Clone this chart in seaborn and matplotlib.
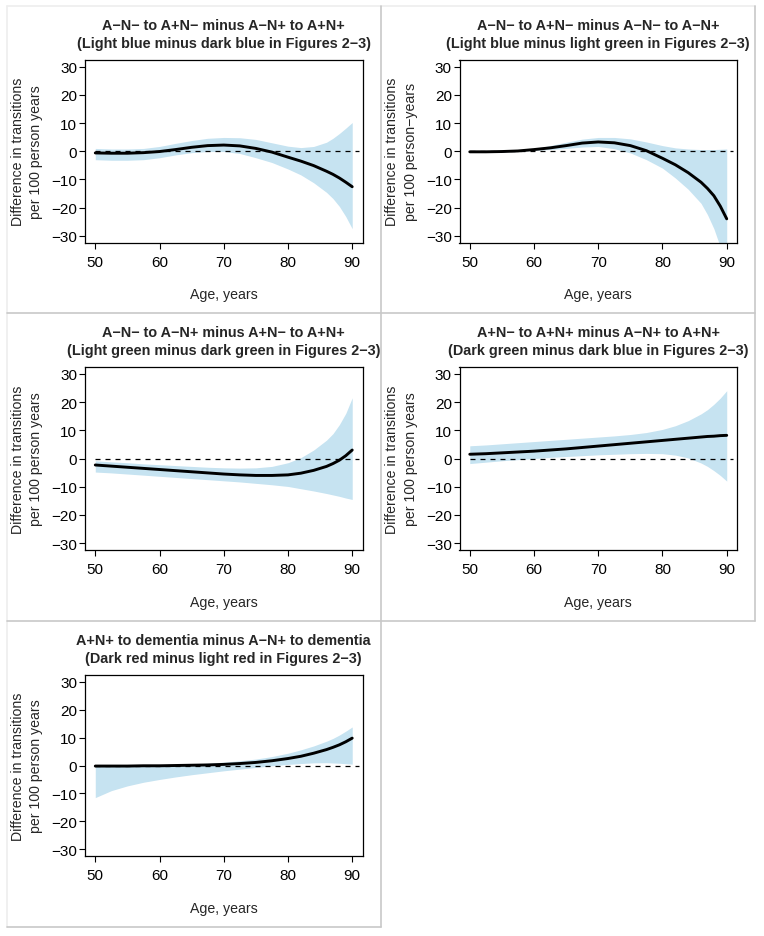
import numpy as np
import matplotlib
matplotlib.use('Agg')
import matplotlib.pyplot as plt
import seaborn as sns
from matplotlib.lines import Line2D

W, H = 764, 937
BAND = '#c6e3f1'

ages = [50, 52.5, 55, 57.5, 60, 62.5, 65, 67.5, 70, 72.5, 75, 77.5,
        80, 82, 84, 86, 87, 88, 89, 90]

# panel 1: light blue minus dark blue
p1_est = [-0.6, -0.7, -0.7, -0.5, -0.1, 0.6, 1.4, 2.0, 2.2, 1.9, 1.0, -0.3,
          -2.1, -3.5, -5.1, -7.1, -8.2, -9.5, -11.0, -12.6]
p1_hi  = [1.0, 0.8, 0.8, 1.0, 1.7, 2.8, 3.8, 4.6, 4.9, 4.8, 4.2, 3.0,
          1.8, 1.3, 1.7, 3.2, 4.6, 6.3, 8.2, 10.2]
p1_lo  = [-3.0, -3.2, -3.2, -3.0, -2.3, -1.3, -0.5, -0.1, -0.1, -0.8, -2.3, -4.0,
          -6.3, -8.4, -11.2, -14.6, -16.8, -19.6, -23.2, -27.5]

# panel 2: light blue minus light green
p2_est = [-0.2, -0.2, -0.1, 0.1, 0.6, 1.2, 2.0, 2.9, 3.3, 3.0, 2.0, 0.2,
          -2.5, -4.8, -7.6, -11.0, -13.2, -15.8, -19.5, -24.0]
p2_hi  = [-0.1, 0.0, 0.1, 0.4, 1.0, 2.0, 3.2, 4.3, 4.9, 4.9, 4.4, 3.3,
          2.0, 1.2, 0.8, 0.6, 0.6, 0.6, 0.7, 0.8]
p2_lo  = [-0.3, -0.3, -0.2, 0.0, 0.3, 0.6, 1.0, 1.5, 1.7, 0.9, -0.6, -3.0,
          -6.0, -9.5, -13.5, -18.5, -22.5, -27.5, -34.0, -42.0]

# panel 3: light green minus dark green
p3_est = [-2.3, -2.7, -3.1, -3.5, -3.9, -4.3, -4.7, -5.1, -5.5, -5.8, -6.0, -6.0,
          -5.8, -5.2, -4.2, -2.8, -1.8, -0.6, 1.0, 3.0]
p3_hi  = [-0.8, -1.2, -1.5, -1.9, -2.2, -2.5, -2.8, -3.1, -3.3, -3.4, -3.3, -2.8,
          -1.5, 0.3, 3.0, 6.5, 8.8, 12.0, 16.0, 21.5]
p3_lo  = [-4.8, -5.1, -5.5, -5.9, -6.3, -6.7, -7.1, -7.5, -7.9, -8.3, -8.8, -9.3,
          -9.9, -10.7, -11.5, -12.4, -12.9, -13.4, -14.0, -14.5]

# panel 4: dark green minus dark blue
p4_est = [1.5, 1.7, 2.0, 2.3, 2.6, 3.0, 3.4, 3.9, 4.4, 4.9, 5.4, 5.9,
          6.4, 6.8, 7.2, 7.6, 7.8, 7.9, 8.1, 8.2]
p4_hi  = [4.5, 4.8, 5.2, 5.6, 6.0, 6.4, 6.8, 7.2, 7.6, 8.0, 8.5, 9.2,
          10.3, 11.6, 13.4, 15.8, 17.3, 19.2, 21.4, 24.0]
p4_lo  = [-1.8, -1.3, -0.8, -0.4, 0.0, 0.4, 0.7, 1.0, 1.3, 1.5, 1.7, 1.8,
          1.7, 1.2, 0.2, -1.6, -2.8, -4.3, -6.0, -8.0]

# panel 5: dark red minus light red
p5_est = [-0.2, -0.2, -0.2, -0.1, -0.1, 0.0, 0.1, 0.2, 0.4, 0.7, 1.1, 1.7,
          2.5, 3.3, 4.4, 5.7, 6.5, 7.4, 8.5, 9.8]
p5_hi  = [-0.1, 0.0, 0.0, 0.1, 0.2, 0.3, 0.5, 0.8, 1.2, 1.7, 2.3, 3.2,
          4.4, 5.6, 7.0, 8.7, 9.7, 10.9, 12.3, 13.8]
p5_lo  = [-11.5, -9.0, -7.3, -6.0, -5.0, -4.1, -3.3, -2.6, -1.9, -1.3, -0.7, -0.1,
          0.4, 0.7, 0.95, 1.0, 0.9, 0.8, 0.65, 0.5]

titles = [
    ('A\u2212N\u2212 to A+N\u2212 minus A\u2212N+ to A+N+', '(Light blue minus dark blue in Figures 2\u22123)'),
    ('A\u2212N\u2212 to A+N\u2212 minus A\u2212N\u2212 to A\u2212N+', '(Light blue minus light green in Figures 2\u22123)'),
    ('A\u2212N\u2212 to A\u2212N+ minus A+N\u2212 to A+N+', '(Light green minus dark green in Figures 2\u22123)'),
    ('A+N\u2212 to A+N+ minus A\u2212N+ to A+N+', '(Dark green minus dark blue in Figures 2\u22123)'),
    ('A+N+ to dementia minus A\u2212N+ to dementia', '(Dark red minus light red in Figures 2\u22123)'),
]
ylabels = [
    'per 100 person years', 'per 100 person\u2212years', 'per 100 person years',
    'per 100 person years', 'per 100 person years',
]
series = [(p1_est, p1_lo, p1_hi), (p2_est, p2_lo, p2_hi), (p3_est, p3_lo, p3_hi),
          (p4_est, p4_lo, p4_hi), (p5_est, p5_lo, p5_hi)]

# axes boxes in pixels: left, top, right, bottom
boxes = [(85, 61, 362.5, 243.5), (459.5, 61, 737, 243.5),
         (85, 368, 362.5, 551), (459.5, 368, 737, 551),
         (85, 676, 362.5, 857)]

sns.set_style('ticks')
plt.rcParams['font.family'] = ['Liberation Sans', 'DejaVu Sans']

fig = plt.figure(figsize=(W / 100, H / 100), dpi=100)


def fx(x):
    return x / W


def fy(y):
    return 1 - y / H


for i, (l, t, r, b) in enumerate(boxes):
    ax = fig.add_axes([fx(l), fy(b), fx(r) - fx(l), fy(t) - fy(b)])
    est, lo, hi = series[i]
    ax.fill_between(ages, lo, hi, color=BAND, lw=0, zorder=1)
    ax.hlines(0, 50, 91, colors='black', linestyles=(0, (4, 4)), lw=0.9, zorder=2)
    sns.lineplot(x=ages, y=est, ax=ax, color='black', lw=2.1, zorder=3)
    ax.set_xlim(48.4, 91.6)
    ax.set_ylim(-32.4, 32.4)
    ax.set_xticks([50, 60, 70, 80, 90])
    ax.set_yticks([-30, -20, -10, 0, 10, 20, 30])
    ax.tick_params(direction='out', length=4, width=0.8, colors='black',
                   labelsize=11)
    ax.tick_params(axis='x', pad=5)
    ax.tick_params(axis='y', pad=1.5)
    for s in ax.spines.values():
        s.set_visible(True)
        s.set_color('black')
        s.set_linewidth(0.9)
    ax.set_xlabel('')
    ax.set_ylabel('')
    cx = (l + r) / 2
    cy = (t + b) / 2
    fig.text(fx(cx), fy(t - 35), titles[i][0], ha='center', va='center',
             fontsize=10.4, fontweight='bold')
    fig.text(fx(cx), fy(t - 17), titles[i][1], ha='center', va='center',
             fontsize=10.4, fontweight='bold')
    fig.text(fx(l - 67), fy(cy), 'Difference in transitions', rotation=90,
             ha='center', va='center', fontsize=10.2)
    fig.text(fx(l - 49), fy(cy), ylabels[i], rotation=90,
             ha='center', va='center', fontsize=10.2)
    fig.text(fx(cx), fy(b + 52), 'Age, years', ha='center', va='center',
             fontsize=10.2)

# panel frames
grey = '#c8c8c8'
faint = '#eeeeee'
frame_lines = [
    ((7, 755), (7, 7), faint), ((7, 7), (7, 928), faint),
    ((381, 381), (7, 928), grey), ((755, 755), (7, 622), grey),
    ((7, 755), (314, 314), grey), ((7, 755), (622, 622), grey),
    ((7, 381), (928, 928), grey),
]
for xs, ys, c in frame_lines:
    fig.add_artist(Line2D([fx(xs[0]), fx(xs[1])], [fy(ys[0]), fy(ys[1])],
                          color=c, lw=1.2, transform=fig.transFigure))

fig.savefig('out.png', dpi=100)
